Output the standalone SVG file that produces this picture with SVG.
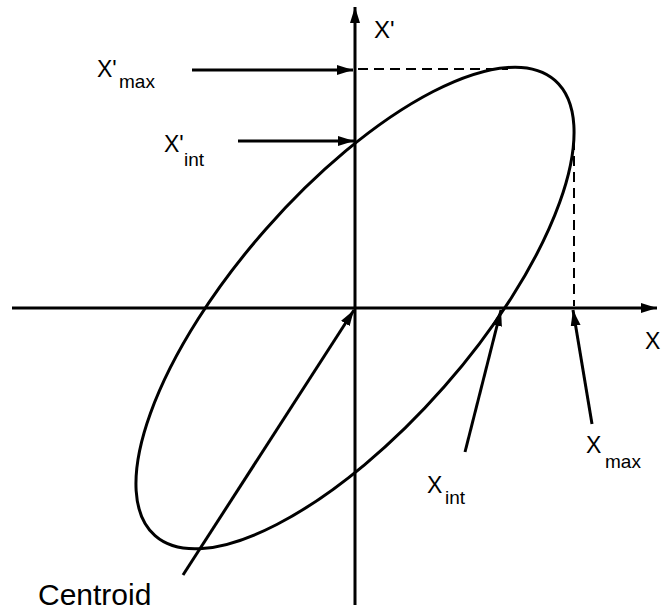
<svg xmlns="http://www.w3.org/2000/svg" width="662" height="613" viewBox="0 0 662 613">
<style>
.ln{stroke:#000;stroke-width:3;fill:none;stroke-linecap:butt}
.dash{stroke:#000;stroke-width:2;fill:none;stroke-dasharray:10 6}
.t{font-family:"Liberation Sans",Arial,sans-serif;fill:#000}
.big{font-size:23px}
.sub{font-size:19px}
</style>
<defs>
<marker id="ah" markerUnits="userSpaceOnUse" markerWidth="18" markerHeight="12" refX="16" refY="5" orient="auto">
<path d="M0,0 L16,5 L0,10 Z" fill="#000"/>
</marker>
</defs>
<rect width="662" height="613" fill="#fff"/>
<g id="axes">
<line class="ln" x1="355" y1="605" x2="355" y2="7" marker-end="url(#ah)"/>
<line class="ln" x1="12" y1="308" x2="657" y2="308" marker-end="url(#ah)"/>
</g>
<g id="ellipse">
<ellipse class="ln" cx="355" cy="308" rx="303" ry="119" transform="rotate(-48.7 355 308)"/>
</g>
<g id="guides">
<line class="dash" x1="358" y1="69" x2="508" y2="69"/>
<line class="dash" x1="574" y1="140" x2="574" y2="306"/>
</g>
<g id="connectors">
<line class="ln" x1="192" y1="70" x2="353" y2="70" marker-end="url(#ah)"/>
<line class="ln" x1="238" y1="141" x2="354" y2="141" marker-end="url(#ah)"/>
<line class="ln" x1="183" y1="575" x2="354" y2="310" marker-end="url(#ah)"/>
<line class="ln" x1="465" y1="452" x2="501" y2="310" marker-end="url(#ah)"/>
<line class="ln" x1="592" y1="424" x2="573" y2="310" marker-end="url(#ah)"/>
</g>
<g id="label-xprime">
<text class="t" x="374" y="38" font-size="24">X'</text>
</g>
<g id="label-xprime-max">
<text class="t big" x="97" y="77">X'</text>
<text class="t sub" x="119" y="88">max</text>
</g>
<g id="label-xprime-int">
<text class="t big" x="164" y="152">X'</text>
<text class="t sub" x="184" y="166">int</text>
</g>
<g id="label-x">
<text class="t big" x="645" y="349">X</text>
</g>
<g id="label-xmax">
<text class="t big" x="586" y="453">X</text>
<text class="t sub" x="605" y="468">max</text>
</g>
<g id="label-xint">
<text class="t big" x="427" y="493">X</text>
<text class="t sub" x="445" y="504">int</text>
</g>
<g id="label-centroid">
<text class="t" x="38" y="605" font-size="30">Centroid</text>
</g>
</svg>
